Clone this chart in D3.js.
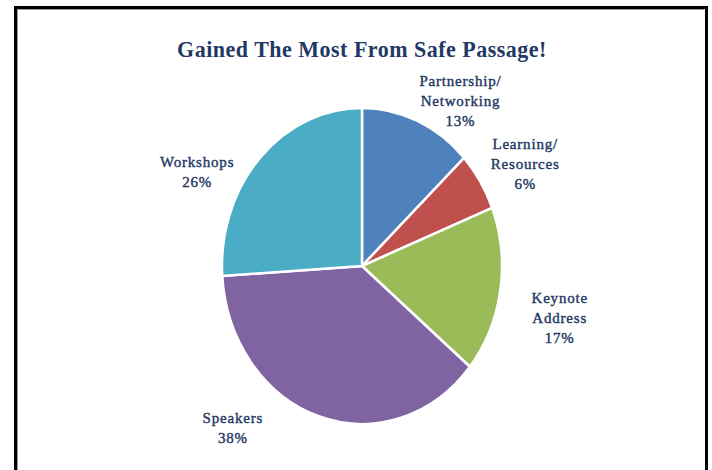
<!DOCTYPE html>
<html>
<head>
<meta charset="utf-8" />
<script src="https://d3js.org/d3.v7.min.js"></script>
<style>
  body { margin: 0; background: #fff; }
  text { font-family: "Liberation Serif", "Times New Roman", serif; fill: #1F3864; }
</style>
</head>
<body>
<div id="visu"></div>
<script>
  const largeur = 712;
  const hauteur = 470;

  // donnees
  const categories = ["Partnership/\nNetworking", "Learning/\nResources", "Keynote\nAddress", "Speakers", "Workshops"];
  const valeurs = [13, 6, 17, 38, 26];
  const couleurs = ["#4F81BD", "#C0504D", "#9BBB59", "#8064A2", "#4BACC6"];
  const titre = "Gained The Most From Safe Passage!";

  // decalage des etiquettes (a la Excel "best fit")
  const decalages = [[25, 26], [7, 10], [15, 19], [-72, -37], [-30, 49]];

  const centre = {x: 362, y: 266};
  const rayon = 140;
  const etirement = 158 / 140; // le camembert est un peu ovale

  const svg = d3.select('#visu').append('svg')
    .attr('width', largeur)
    .attr('height', hauteur);

  // cadre
  svg.append('rect')
    .attr('x', 15.5).attr('y', 7.5)
    .attr('width', 691).attr('height', 500)
    .attr('fill', 'none').attr('stroke', '#000').attr('stroke-width', 3);
  svg.append('path')
    .attr('d', 'M17.5,470 V9.5 H704')
    .attr('fill', 'none').attr('stroke', '#999').attr('stroke-width', 1);

  svg.append('text')
    .attr('transform', `translate(${centre.x},57) scale(1,1.06)`)
    .attr('text-anchor', 'middle')
    .style('font-size', '22px')
    .style('font-weight', 'bold')
    .style('letter-spacing', '0.5px')
    .text(titre);

  const pie = d3.pie().sort(null).value(d => d);
  const arcs = pie(valeurs);

  const arc = d3.arc().innerRadius(0).outerRadius(rayon);
  const arcEtiquette = d3.arc().innerRadius(185).outerRadius(185);

  const g = svg.append('g')
    .attr('transform', `translate(${centre.x},${centre.y}) scale(1,${etirement})`);

  g.selectAll('path')
    .data(arcs)
    .enter()
    .append('path')
    .attr('d', arc)
    .attr('fill', (d, i) => couleurs[i])
    .attr('stroke', '#fff')
    .attr('stroke-width', 2.5)
    .attr('vector-effect', 'non-scaling-stroke');

  // etiquettes
  const hauteurLigne = 20;
  arcs.forEach((d, i) => {
    const c = arcEtiquette.centroid(d);
    const x = centre.x + c[0] + decalages[i][0];
    const y = centre.y + c[1] * etirement + decalages[i][1];
    const lignes = categories[i].split('\n').concat([valeurs[i] + '%']);
    const t = svg.append('text')
      .attr('text-anchor', 'middle')
      .attr('stroke', '#1F3864')
      .attr('stroke-width', 0.4)
      .style('font-size', '15px')
      .style('letter-spacing', '0.8px');
    lignes.forEach((l, j) => {
      t.append('tspan')
        .attr('x', x)
        .attr('y', y + (j - (lignes.length - 1) / 2) * hauteurLigne)
        .attr('dy', '0.35em')
        .text(l);
    });
  });
</script>
</body>
</html>
